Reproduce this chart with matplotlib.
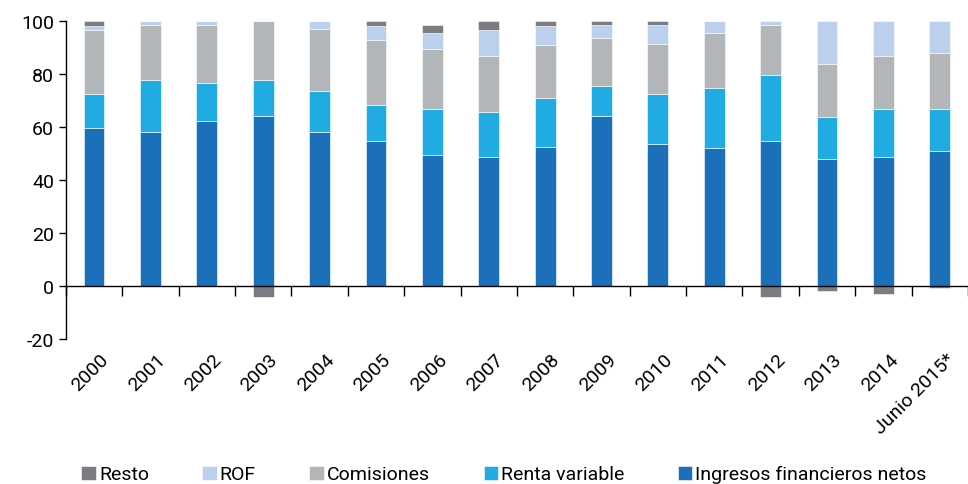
import numpy as np
import matplotlib
matplotlib.use('Agg')
import matplotlib.pyplot as plt

plt.rcParams['font.family'] = ['Roboto', 'DejaVu Sans']
plt.rcParams['axes.unicode_minus'] = False

years = ['2000', '2001', '2002', '2003', '2004', '2005', '2006', '2007',
         '2008', '2009', '2010', '2011', '2012', '2013', '2014', 'Junio 2015*']
ingresos = [59.6, 58.0, 62.3, 64.0, 58.0, 54.7, 49.4, 48.7,
            52.5, 64.2, 53.6, 52.0, 54.7, 47.9, 48.7, 50.9]
renta = [12.9, 19.7, 14.3, 13.7, 15.7, 13.6, 17.4, 16.8,
         18.3, 11.4, 18.9, 22.8, 25.0, 16.0, 18.1, 15.9]
comisiones = [24.2, 20.9, 22.0, 22.3, 23.1, 24.3, 22.6, 21.2,
              19.9, 18.0, 18.8, 20.7, 18.9, 19.9, 19.9, 21.1]
rof = [1.3, 1.4, 1.4, 0.0, 3.2, 5.3, 6.1, 10.0,
       7.2, 4.9, 7.3, 4.5, 1.4, 16.2, 13.3, 12.1]
resto = [2.0, 0.0, 0.0, -4.3, 0.0, 2.1, 3.1, 3.3,
         2.1, 1.5, 1.4, 0.0, -4.3, -2.0, -3.1, -0.8]

series = [('Ingresos financieros netos', ingresos, '#1c70ba'),
          ('Renta variable', renta, '#20ace2'),
          ('Comisiones', comisiones, '#b3b6b9'),
          ('ROF', rof, '#bad0ec'),
          ('Resto', resto, '#7b7c81')]

fig = plt.figure(figsize=(9.68, 4.85), dpi=100)
ax = fig.add_axes([0.068, 0.299, 0.932, 0.656])

x = np.arange(len(years))
bottom_pos = np.zeros(len(years))
bottom_neg = np.zeros(len(years))
handles = {}
for name, vals, col in series:
    v = np.array(vals)
    b = np.where(v >= 0, bottom_pos, bottom_neg)
    h = ax.bar(x, v, 0.37, bottom=b, color=col, edgecolor='white', linewidth=0.4)
    handles[name] = h
    bottom_pos = bottom_pos + np.where(v >= 0, v, 0)
    bottom_neg = bottom_neg + np.where(v < 0, v, 0)

ax.set_ylim(-20, 100)
ax.set_xlim(-0.46, 15.45)
ax.set_yticks(np.arange(-20, 101, 20))
ax.tick_params(axis='y', labelsize=14, length=5, width=1, direction='out')
for s in ['top', 'right']:
    ax.spines[s].set_visible(False)
ax.spines['left'].set_linewidth(1)
ax.spines['bottom'].set_position(('data', 0))
ax.spines['bottom'].set_linewidth(1)

ax.set_xticks(x)
ax.set_xticklabels(years, rotation=45, ha='right', rotation_mode='anchor', fontsize=14)
ax.set_xticks(np.arange(-0.5, 15.6, 1), minor=True)
ax.tick_params(axis='x', which='major', length=0, pad=46)
ax.tick_params(axis='x', which='minor', length=7, width=1, direction='out')
for lbl in ax.get_xticklabels():
    lbl.set_transform(lbl.get_transform() + matplotlib.transforms.ScaledTranslation(4/72, 0, fig.dpi_scale_trans))

order = ['Resto', 'ROF', 'Comisiones', 'Renta variable', 'Ingresos financieros netos']
fig.legend([handles[n] for n in order], order, ncol=5, loc='lower left',
           bbox_to_anchor=(0.066, -0.035), frameon=False, fontsize=14,
           handlelength=0.75, handleheight=0.75, handletextpad=0.15,
           columnspacing=2.75)

fig.savefig('out.png', dpi=100)
